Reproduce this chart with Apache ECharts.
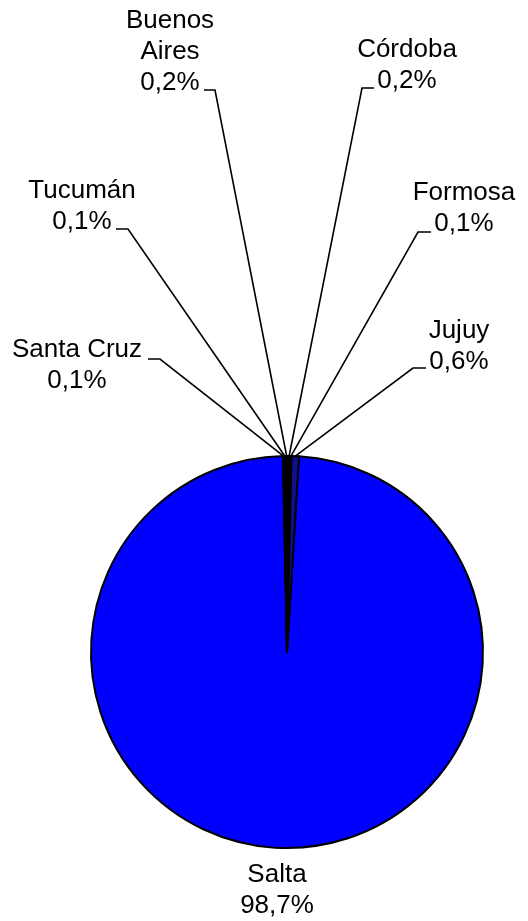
<!DOCTYPE html>
<html><head><meta charset="utf-8">
<script src="https://cdn.jsdelivr.net/npm/echarts@6/dist/echarts.min.js"></script>
<style>html,body{margin:0;padding:0;background:#fff}#c{width:528px;height:921px}</style>
</head><body><div id="c"></div>
<script>
// Data (clockwise order of the slices)
const provinces = ['Salta', 'Santa Cruz', 'Tucumán', 'Buenos Aires', 'Córdoba', 'Formosa', 'Jujuy'];
const labelNames = ['Salta', 'Santa Cruz', 'Tucumán', 'Buenos\nAires', 'Córdoba', 'Formosa', 'Jujuy'];
const shares = [98.7, 0.1, 0.1, 0.2, 0.2, 0.1, 0.6];
const sliceColors = ['#0000FF', '#000000', '#000000', '#000000', '#000000', '#000000', '#10108F'];

// Manual label placement (layout only)
const labelPlace = [
  { x: 277, y: 890 },
  { x: 77,  y: 365.5, corner: [160, 359], end: [148, 359] },
  { x: 82,  y: 206,   corner: [128, 229], end: [116, 229] },
  { x: 170, y: 51.5,  corner: [215, 90],  end: [204, 90] },
  { x: 407, y: 65,    corner: [362, 88],  end: [374, 88] },
  { x: 464, y: 208.5, corner: [418, 232], end: [431, 232] },
  { x: 459, y: 346.5, corner: [413, 368], end: [426, 368] }
];

const chart = echarts.init(document.getElementById('c'), null, { renderer: 'canvas' });
chart.setOption({
  animation: false,
  series: [{
    type: 'pie',
    center: [287, 652],
    radius: 196,
    startAngle: 86.5,
    clockwise: true,
    avoidLabelOverlap: false,
    emphasis: { disabled: true },
    itemStyle: { borderColor: '#000', borderWidth: 2 },
    label: {
      show: true,
      position: 'outside',
      color: '#000',
      fontSize: 26,
      lineHeight: 31,
      fontFamily: 'Liberation Sans, Arial, sans-serif',
      align: 'center',
      formatter: p => labelNames[p.dataIndex] + '\n' + shares[p.dataIndex].toFixed(1).replace('.', ',') + '%'
    },
    labelLine: {
      show: true, length: 10, length2: 10, smooth: false,
      lineStyle: { color: '#000', width: 1.6 }
    },
    labelLayout: function (p) {
      const pl = labelPlace[p.dataIndex];
      const out = { x: pl.x, y: pl.y, align: 'center', verticalAlign: 'middle' };
      if (pl.corner && p.labelLinePoints) {
        out.labelLinePoints = [p.labelLinePoints[0], pl.corner, pl.end];
      }
      return out;
    },
    data: provinces.map((n, i) => ({
      name: n,
      value: shares[i],
      itemStyle: { color: sliceColors[i] },
      labelLine: { show: i !== 0 }
    }))
  }]
});
</script>
</body></html>
